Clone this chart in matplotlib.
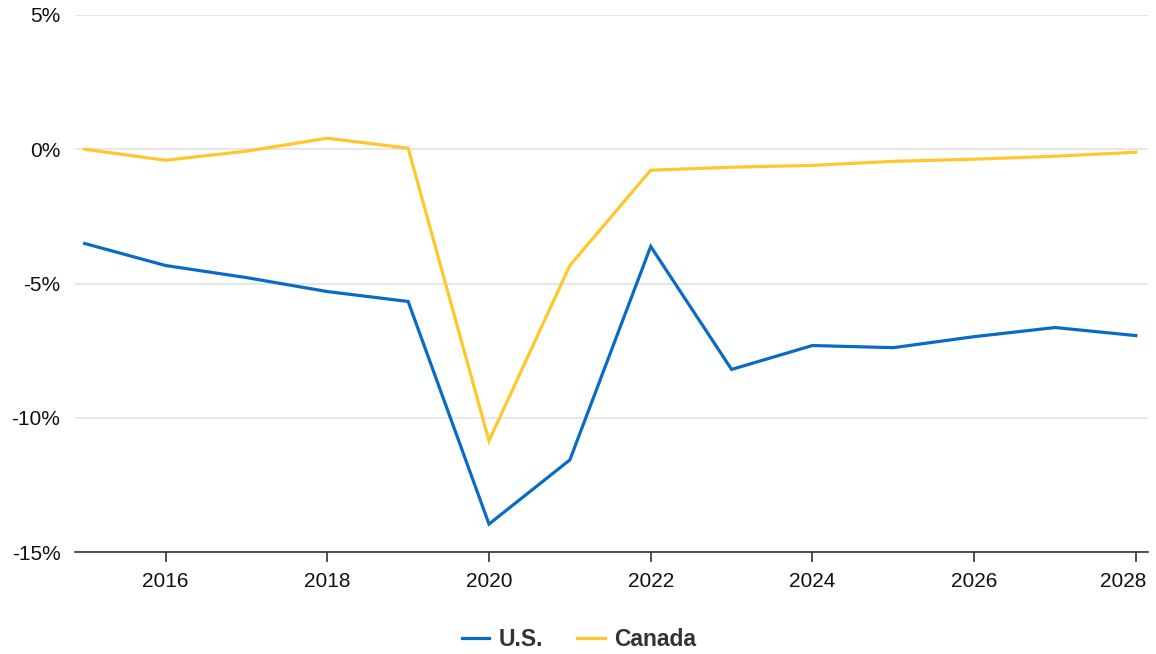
import matplotlib
matplotlib.use("Agg")
import matplotlib.pyplot as plt
from matplotlib.ticker import FuncFormatter
from matplotlib.transforms import ScaledTranslation
from matplotlib.font_manager import FontProperties, fontManager

years = [2015, 2016, 2017, 2018, 2019, 2020, 2021, 2022, 2023, 2024, 2025, 2026, 2027, 2028]
us = [-3.51, -4.33, -4.78, -5.3, -5.67, -13.96, -11.57, -3.62, -8.2, -7.31, -7.39, -6.98, -6.64, -6.94]
canada = [0.0, -0.41, -0.07, 0.41, 0.04, -10.86, -4.33, -0.78, -0.67, -0.6, -0.45, -0.37, -0.26, -0.11]
xticks = [2016, 2018, 2020, 2022, 2024, 2026, 2028]
yticks = [-15, -10, -5, 0, 5]

plt.rcParams['font.family'] = ['Liberation Sans', 'DejaVu Sans']

fig = plt.figure(figsize=(11.56, 6.54), dpi=100)
ax = fig.add_axes([75/1156, 1-552/654, (1148-75)/1156, (552-15)/654])

ax.plot(years, us, color='#0a6bc4', lw=2.3, label='U.S.', solid_joinstyle='miter', zorder=3)
ax.plot(years, canada, color='#ffc72c', lw=2.3, label='Canada', solid_joinstyle='miter', zorder=3)

ax.set_xlim(2014.88, 2028.15)
ax.set_ylim(-15, 5)
ax.set_xticks(xticks)
ax.set_yticks(yticks)
ax.yaxis.set_major_formatter(FuncFormatter(lambda v, p: f"{int(v)}%"))
ax.grid(axis='y', color='#e3e3e3', lw=1.2)
ax.set_axisbelow(True)
for s in ['top', 'right', 'left']:
    ax.spines[s].set_visible(False)
ax.spines['bottom'].set_color('#333333')
ax.spines['bottom'].set_linewidth(1.2)
ax.tick_params(axis='y', length=0, labelsize=15, pad=10.5, colors='#111111')
ax.tick_params(axis='x', length=7, width=1.2, color='#333333', labelsize=15, pad=7.5, labelcolor='#111111')
ax.tick_params(axis='y', labelcolor='#111111')

fig.canvas.draw()
last = ax.get_xticklabels()[-1]
last.set_ha('right')
last.set_transform(last.get_transform() + ScaledTranslation(11/100, 0, fig.dpi_scale_trans))

bold_file = None
for f in fontManager.ttflist:
    if f.name == 'Liberation Sans' and f.weight in (700, 'bold') and f.style == 'normal' and 'Narrow' not in f.fname:
        bold_file = f.fname
        break
if bold_file:
    bold = FontProperties(fname=bold_file, size=16.5)
else:
    bold = FontProperties(family='DejaVu Sans', weight='bold', size=15)
leg = fig.legend(loc='center', bbox_to_anchor=(579/1156, 1-640/654), ncol=2, frameon=False,
                 prop=bold, handlelength=1.2, columnspacing=1.5, handletextpad=0.4)
for t in leg.get_texts():
    t.set_color('#333333')

fig.savefig('out.png', dpi=100)
